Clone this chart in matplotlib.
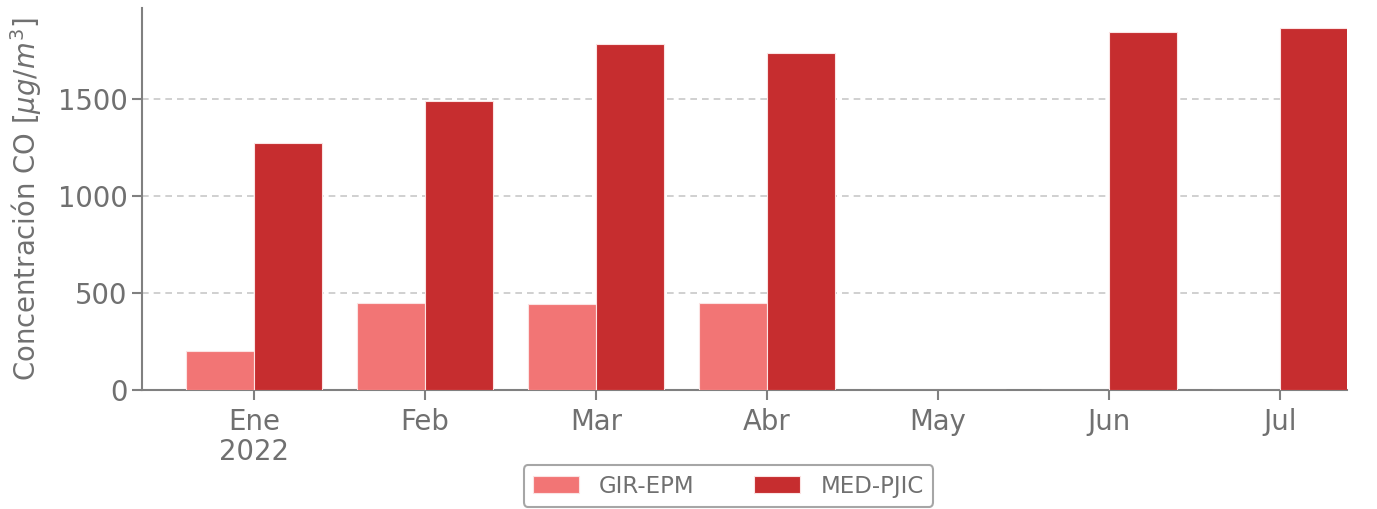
import matplotlib
matplotlib.use("Agg")
import matplotlib.pyplot as plt
import numpy as np

months = ["Ene\n2022", "Feb", "Mar", "Abr", "May", "Jun", "Jul"]
gir_epm = [201, 448, 446, 448, 0, 0, 0]
med_pjic = [1273, 1490, 1784, 1737, 0, 1848, 1869]
series_names = ["GIR-EPM", "MED-PJIC"]
colors = ["#f27575", "#c62d2f"]

plt.rcParams['font.family'] = ['DejaVu Sans']
text_color = "#707070"

fig = plt.figure(figsize=(13.77, 5.09), dpi=100)
ax = fig.add_axes([0.1031, 0.2338, 0.978 - 0.1031, 0.984 - 0.2338])

x = np.arange(len(months))
w = 0.4
ax.bar(x - w/2, gir_epm, width=w, color=colors[0], edgecolor="#fbe3e3", linewidth=0.8, label=series_names[0], zorder=3)
ax.bar(x + w/2, med_pjic, width=w, color=colors[1], edgecolor="#fbe3e3", linewidth=0.8, label=series_names[1], zorder=3)

ax.set_xlim(-0.655, 6.39)
ax.set_ylim(0, 1969)
ax.set_yticks([0, 500, 1000, 1500])
ax.set_xticks(x)
ax.set_xticklabels(months, linespacing=1.1)
ax.yaxis.grid(True, linestyle=(0, (4, 3)), color="#c8c8c8", linewidth=1.2, zorder=0)

for s in ["top", "right"]:
    ax.spines[s].set_visible(False)
for s in ["left", "bottom"]:
    ax.spines[s].set_color("#808080")
    ax.spines[s].set_linewidth(1.5)

ax.tick_params(axis="both", colors="#808080", labelcolor=text_color, labelsize=19.8, length=7, width=1.5)
ax.tick_params(axis="x", pad=6)
ax.set_ylabel(r"Concentración CO [$\mu g/m^3$]", fontsize=19.8, color=text_color, labelpad=10)

leg = fig.legend(loc="lower center", bbox_to_anchor=(0.529, 0.0), ncol=2, fontsize=16.5,
                 frameon=True, handlelength=2.0, handleheight=0.75, columnspacing=2.6,
                 handletextpad=0.9, borderaxespad=0.1, fancybox=True)
leg.get_frame().set_edgecolor("#909090")
leg.get_frame().set_linewidth(1.5)
for t in leg.get_texts():
    t.set_color(text_color)

fig.savefig("out.png", dpi=100)
